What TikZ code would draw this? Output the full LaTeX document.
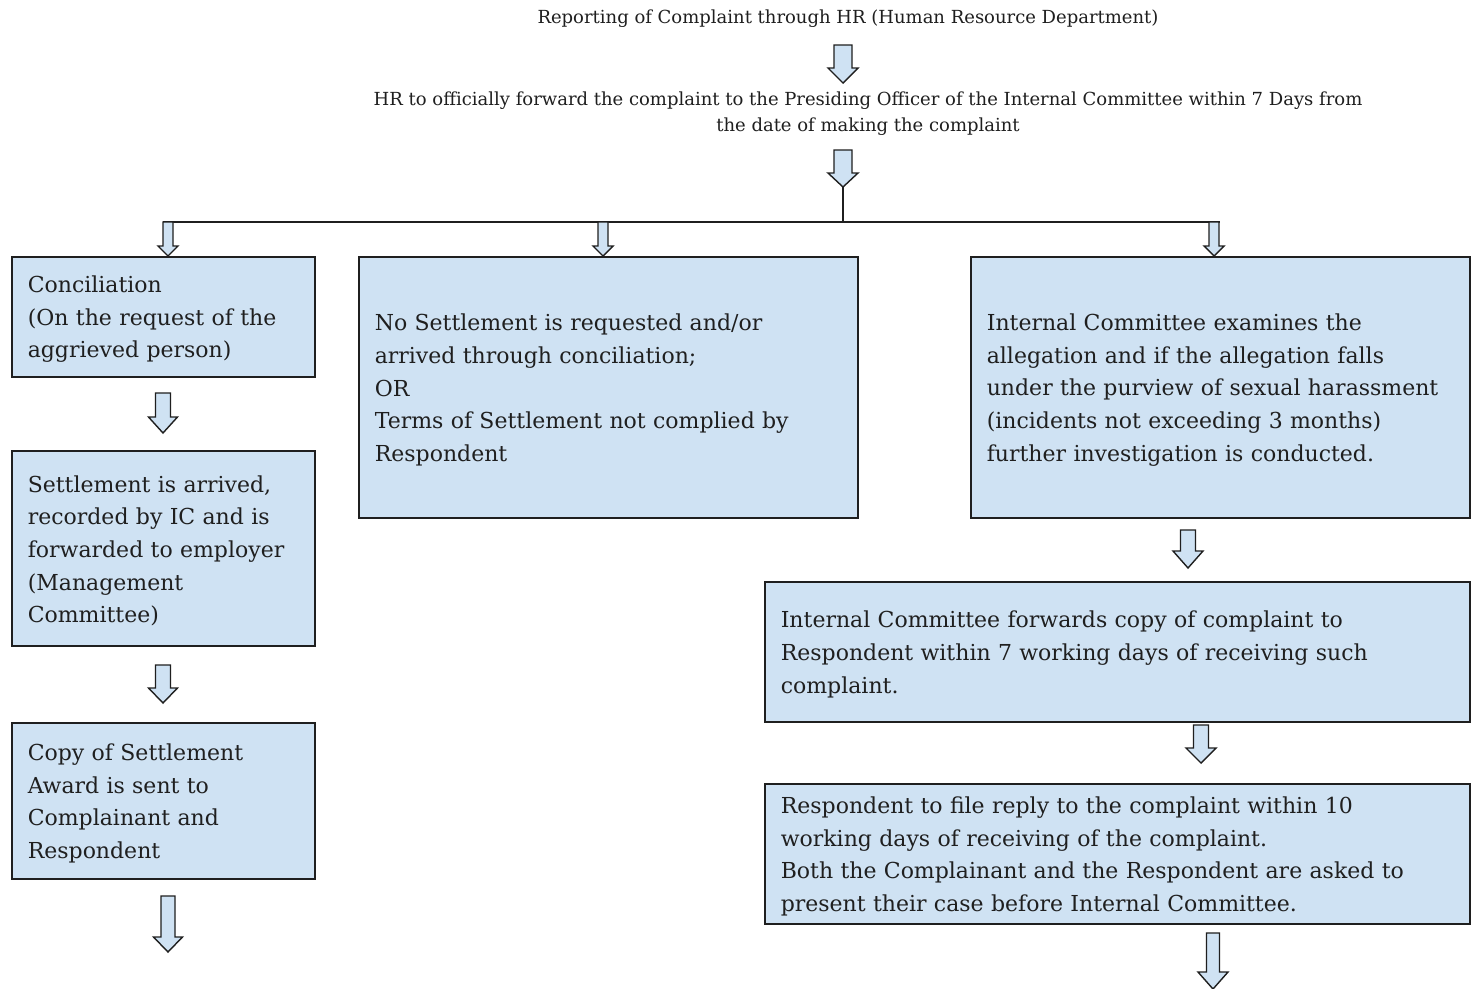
\documentclass[tikz,border=0pt]{standalone}
\usepackage{fontspec}
\setmainfont{DejaVu Serif}
\definecolor{boxfill}{HTML}{CFE2F3}
\definecolor{ink}{HTML}{1F1F1F}
\tikzset{
  box/.style={draw=ink, line width=1.6pt, fill=boxfill, inner xsep=16pt, inner ysep=4pt,
    align=left, anchor=north west, text=ink, font=\fontsize{22}{32.6}\selectfont,
    execute at begin node={\rule{0pt}{22pt}}},
  toptext/.style={text=ink, align=center, font=\fontsize{18}{26}\selectfont, inner sep=0pt},
  barrowstyle/.style={draw=ink, line width=1.4pt, fill=boxfill, line join=miter},
  bus/.style={draw=ink, line width=1.6pt}
}
% \blockarr{cx}{top}{headstart}{tip}{halfshaft}{halfhead}
\newcommand\blockarr[6]{%
  \draw[barrowstyle] ({#1-#5},#2) -- ({#1+#5},#2) -- ({#1+#5},#3) -- ({#1+#6},#3)
    -- (#1,#4) -- ({#1-#6},#3) -- ({#1-#5},#3) -- cycle;}
\begin{document}
\begin{tikzpicture}[x=1pt,y=-1pt]
\useasboundingbox[fill=white] (0,0) rectangle (1475,988);

\node[toptext] (t1) at (848,19) {Reporting of Complaint through HR (Human Resource Department)};
\node[toptext] (t2) at (868,114) {HR to officially forward the complaint to the Presiding Officer of the Internal Committee within 7 Days from\\the date of making the complaint};

\node[box, minimum width=303pt, minimum height=120pt, text width=271pt] (b1) at (11,256)
  {Conciliation\\(On the request of the\\aggrieved person)};
\node[box, minimum width=303pt, minimum height=195pt, text width=271pt] (b2) at (11,450)
  {Settlement is arrived,\\recorded by IC and is\\forwarded to employer\\(Management\\Committee)};
\node[box, minimum width=303pt, minimum height=156pt, text width=271pt] (b3) at (11,722)
  {Copy of Settlement\\Award is sent to\\Complainant and\\Respondent};
\node[box, minimum width=499pt, minimum height=261pt, text width=467pt] (b4) at (358,256)
  {No Settlement is requested and/or\\arrived through conciliation;\\OR\\Terms of Settlement not complied by\\Respondent};
\node[box, minimum width=499pt, minimum height=261pt, text width=467pt] (b5) at (970,256)
  {Internal Committee examines the\\allegation and if the allegation falls\\under the purview of sexual harassment\\(incidents not exceeding 3 months)\\further investigation is conducted.};
\node[box, minimum width=705pt, minimum height=140pt, text width=673pt] (b6) at (764,581)
  {Internal Committee forwards copy of complaint to\\Respondent within 7 working days of receiving such\\complaint.};
\node[box, minimum width=705pt, minimum height=140pt, text width=673pt] (b7) at (764,783)
  {Respondent to file reply to the complaint within 10\\working days of receiving of the complaint.\\Both the Complainant and the Respondent are asked to\\present their case before Internal Committee.};

% big arrows at top
\blockarr{843}{45}{68}{83}{9}{15}
\blockarr{843}{150}{173}{187}{9}{15}
\coordinate (a2tip) at (843,187);
\coordinate (busmid) at (843,222);
\coordinate (busl) at (163,222);
\coordinate (busr) at (1220,222);
\draw[bus] (a2tip) -- (busmid);
\draw[bus] (busl) -- (busr);

% small arrows into the three top boxes
\blockarr{168}{222}{246}{256}{5}{10}
\blockarr{603}{222}{246}{256}{5}{10}
\blockarr{1214}{222}{246}{256}{5}{10}

% left column arrows
\blockarr{163}{393}{417}{433}{7.5}{14.5}
\blockarr{163}{665}{688}{703}{7.5}{14.5}
\blockarr{168}{896}{937}{952}{7}{14.5}

% right column arrows
\blockarr{1188}{530}{551}{568}{7.5}{15}
\blockarr{1201}{725}{748}{763}{7.5}{15}
\blockarr{1213}{933}{972}{989}{6.5}{15}
\end{tikzpicture}
\end{document}
